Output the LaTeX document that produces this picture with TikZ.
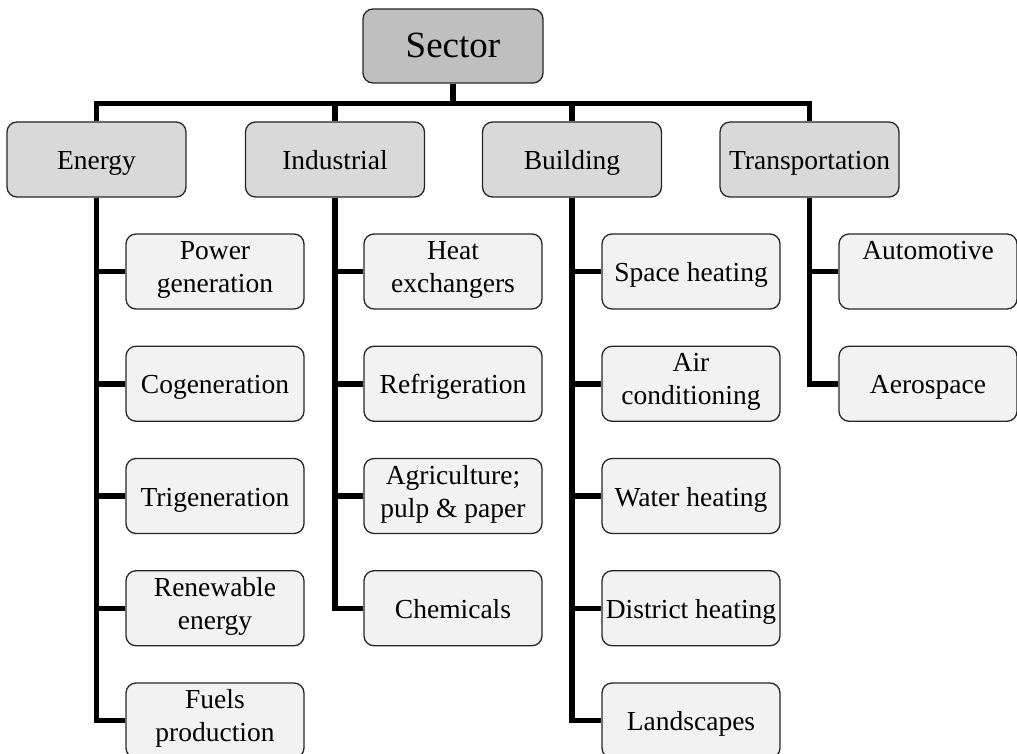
\documentclass[tikz,border=0pt]{standalone}
\usepackage{fontspec}
\setmainfont{Liberation Serif}
\definecolor{topfill}{HTML}{BFBFBF}
\definecolor{midfill}{HTML}{D9D9D9}
\definecolor{leaffill}{HTML}{F2F2F2}
\begin{document}
\begin{tikzpicture}[x=1pt,y=-1pt,
  box/.style={draw=black!85, line width=1.3pt, rounded corners=10pt, align=center,
    inner sep=2pt, font=\fontsize{27.5}{33}\selectfont,
    execute at begin node={\rule{0pt}{\dimexpr0.7\baselineskip+7pt\relax}},
    execute at end node={\strut}},
  rootbox/.style={box, fill=topfill, minimum width=180pt, minimum height=74pt,
    font=\fontsize{37}{40}\selectfont},
  groupbox/.style={box, fill=midfill, minimum width=179pt, minimum height=75pt},
  leafbox/.style={box, fill=leaffill, minimum width=178pt, minimum height=75pt},
  link/.style={line width=5.5pt, black}]
\useasboundingbox (0,0) rectangle (1017,754);

% root and sector groups
\node[rootbox]  (sector) at (453,46)    {Sector};
\node[groupbox] (en)     at (96.5,159.5) {Energy};
\node[groupbox] (ind)    at (335,159.5)  {Industrial};
\node[groupbox] (bld)    at (572,159.5)  {Building};
\node[groupbox] (trn)    at (809.5,159.5) {Transportation};

% energy applications
\node[leafbox] (en1) at (215,271.5)  {Power\\generation};
\node[leafbox] (en2) at (215,383.75) {Cogeneration};
\node[leafbox] (en3) at (215,496)    {Trigeneration};
\node[leafbox] (en4) at (215,608.25) {Renewable\\energy};
\node[leafbox] (en5) at (215,720.5)  {Fuels\\production};

% industrial applications
\node[leafbox] (ind1) at (453,271.5)  {Heat\\exchangers};
\node[leafbox] (ind2) at (453,383.75) {Refrigeration};
\node[leafbox] (ind3) at (453,496)    {Agriculture;\\pulp \& paper};
\node[leafbox] (ind4) at (453,608.25) {Chemicals};

% building applications
\node[leafbox] (bld1) at (691,271.5)  {Space heating};
\node[leafbox] (bld2) at (691,383.75) {Air\\conditioning};
\node[leafbox] (bld3) at (691,496)    {Water heating};
\node[leafbox] (bld4) at (691,608.25) {District heating};
\node[leafbox] (bld5) at (691,720.5)  {Landscapes};

% transportation applications
\node[leafbox] (trn1) at (928,271.5)  {Automotive\\};
\node[leafbox] (trn2) at (928,383.75) {Aerospace};

% top-level bus
\coordinate (bus) at (453,103.5);
\draw[link] (sector.south) -- (bus);
\draw[link] (en.north) |- (bus) -| (trn.north);
\draw[link] (ind.north) -- (ind.north |- bus);
\draw[link] (bld.north) -- (bld.north |- bus);

% branch lines
\foreach \c in {en1,en2,en3,en4,en5} \draw[link] (en.south) |- (\c.west);
\foreach \c in {ind1,ind2,ind3,ind4} \draw[link] (ind.south) |- (\c.west);
\foreach \c in {bld1,bld2,bld3,bld4,bld5} \draw[link] (bld.south) |- (\c.west);
\foreach \c in {trn1,trn2} \draw[link] (trn.south) |- (\c.west);
\end{tikzpicture}
\end{document}
